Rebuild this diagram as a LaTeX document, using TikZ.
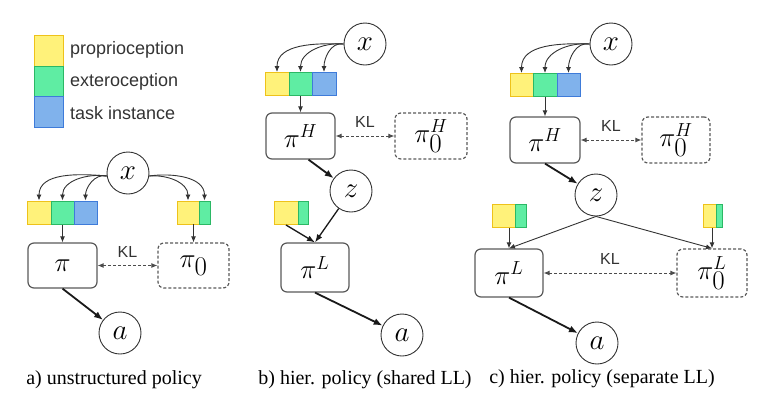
\RequirePackage{fix-cm}
\documentclass[tikz,border=0pt]{standalone}
\usepackage{fontspec}
\setmainfont{Liberation Serif}
\newfontfamily\sansf{Liberation Sans}
\usetikzlibrary{arrows.meta}
\definecolor{yf}{HTML}{FFF27A}
\definecolor{yd}{HTML}{EEC21A}
\definecolor{gf}{HTML}{5FEDA3}
\definecolor{gd}{HTML}{2BB865}
\definecolor{bf}{HTML}{80B2EC}
\definecolor{bd}{HTML}{3E7BD9}
\definecolor{ln}{HTML}{333333}
\newcommand{\bigsub}{_{\lower4pt\hbox{$\textstyle 0$}}}
\tikzset{
  sq/.style={draw, line width=1pt, inner sep=0pt, minimum height=23pt},
  ys/.style={sq, fill=yf, draw=yd},
  gs/.style={sq, fill=gf, draw=gd},
  bs/.style={sq, fill=bf, draw=bd},
  lsq/.style={draw, line width=1pt, inner sep=0pt, minimum width=29pt, minimum height=31pt},
  circ/.style={circle, draw=ln, line width=0.9pt, minimum size=42pt, inner sep=0pt, font=\fontsize{29}{33}\selectfont},
  pbox/.style={draw=black!65, rounded corners=6pt, line width=1.2pt, inner sep=0pt, font=\fontsize{27}{32}\selectfont},
  dbox/.style={pbox, dash pattern=on 3pt off 2pt},
  arr/.style={draw=ln, line width=0.9pt, -{Latex[length=6pt,width=5pt]}},
  marr/.style={draw=black!90, line width=1.3pt, -{Latex[length=8pt,width=6pt]}},
  tarr/.style={draw=black!90, line width=1.8pt, -{Latex[length=9pt,width=7pt]}},
  klarr/.style={draw=black!70, line width=0.9pt, dash pattern=on 3pt off 2pt, {Latex[length=6pt,width=5pt]}-{Latex[length=6pt,width=5pt]}},
  kllab/.style={inner sep=0pt, font=\sansf\fontsize{16}{18}\selectfont, text=ln},
  leg/.style={inner sep=0pt, anchor=west, font=\sansf\fontsize{18}{21}\selectfont, text=ln},
  captxt/.style={inner sep=0pt, font=\fontsize{20}{24}\selectfont}
}
\begin{document}
\begin{tikzpicture}[x=1pt,y=-1pt]
\useasboundingbox (0,0) rectangle (772,413);

% ---------- legend ----------
\node[lsq, fill=yf, draw=yd] (ly) at (48.5,51) {};
\node[lsq, fill=gf, draw=gd] (lg) at (48.5,81.5) {};
\node[lsq, fill=bf, draw=bd] (lb) at (48.5,112) {};
\node[leg] (lty) at (70,50) {proprioception};
\node[leg] (ltg) at (70,82) {exteroception};
\node[leg] (ltb) at (70,113) {task instance};

% ---------- panel a ----------
\node[circ] (xa) at (128,173) {$x$};
\node[ys, minimum width=24pt] (ay) at (39,212.5) {};
\node[gs, minimum width=23pt] (ag) at (62.5,212.5) {};
\node[bs, minimum width=23pt] (ab) at (85.5,212.5) {};
\node[ys, minimum width=22pt] (ry) at (188,212.5) {};
\node[gs, minimum width=11pt] (rg) at (204.5,212.5) {};
\coordinate (rbar) at (193.5,224);
\node[pbox, minimum width=69pt, minimum height=45pt] (pa) at (62.5,265.5) {$\pi$};
\node[dbox, minimum width=71pt, minimum height=45pt] (pa0) at (193.5,265.5) {$\pi\bigsub$};
\node[circ] (aa) at (120,333) {$a$};

\draw[arr] (xa.188) to[out=175,in=90] (ay.north);
\draw[arr] (xa.188) to[out=172,in=90] (ag.north);
\draw[arr] (xa.188) to[out=168,in=90] (ab.north);
\draw[arr] (xa.-8) to[out=5,in=90] (ry.north);
\draw[arr] (xa.-8) to[out=8,in=90] (rg.north);
\draw[arr] (ag.south) -- (pa.north);
\draw[arr] (rbar) -- (rbar |- pa0.north);
\draw[klarr] (pa.east) -- (pa0.west) node[midway, above=8pt, kllab] (kla) {KL};
\draw[tarr] (pa.south) -- (aa);
\node[captxt] (capa) at (114,380) {a) unstructured policy};

% ---------- panel b ----------
\node[circ] (xb) at (365,44) {$x$};
\node[ys, minimum width=24pt] (by) at (277,84) {};
\node[gs, minimum width=23pt] (bg) at (300.5,84) {};
\node[bs, minimum width=24pt] (bb) at (324,84) {};
\node[pbox, minimum width=69pt, minimum height=46pt] (pbh) at (300.5,136) {$\pi^H$};
\node[dbox, minimum width=72pt, minimum height=46pt] (pbh0) at (431,136) {$\pi^H\bigsub$};
\node[circ] (zb) at (351,191) {$z$};
\node[ys, minimum width=24pt] (sby) at (286,213) {};
\node[gs, minimum width=10pt] (sbg) at (303,213) {};
\node[pbox, minimum width=68pt, minimum height=49pt] (pbl) at (315,267.5) {$\pi^L$};
\node[circ] (ab2) at (402,335) {$a$};

\draw[arr] (xb.west) to[out=178,in=90] (by.north);
\draw[arr] (xb.west) to[out=175,in=90] (bg.north);
\draw[arr] (xb.west) to[out=170,in=90] (bb.north);
\draw[arr] (bg.south) -- (pbh.north);
\draw[klarr] (pbh.east) -- (pbh0.west) node[midway, above=8pt, kllab] (klb) {KL};
\draw[tarr] ([xshift=8pt]pbh.south) -- (zb);
\draw[marr] (zb) -- (pbl.north);
\draw[marr] (sby.south) -- (pbl.north);
\draw[tarr] (pbl.south) -- (ab2);
\node[captxt] (capb) at (365,380) {b) hier. policy (shared LL)};

% ---------- panel c ----------
\node[circ] (xc) at (611,44) {$x$};
\node[ys, minimum width=23pt] (cy) at (521.5,85) {};
\node[gs, minimum width=24pt] (cg) at (545,85) {};
\node[bs, minimum width=23pt] (cb) at (568.5,85) {};
\node[pbox, minimum width=70pt, minimum height=46pt] (pch) at (545,140) {$\pi^H$};
\node[dbox, minimum width=68pt, minimum height=46pt] (pch0) at (676,140) {$\pi^H\bigsub$};
\node[circ] (zc) at (596,195) {$z$};
\node[ys, minimum width=23pt] (lsy) at (503.5,216) {};
\node[gs, minimum width=11pt] (lsg) at (520.5,216) {};
\node[ys, minimum width=13pt] (rsy) at (709.5,216) {};
\node[gs, minimum width=6pt] (rsg) at (719,216) {};
\coordinate (lbar) at (509,228);
\coordinate (rsbar) at (712,228);
\node[pbox, minimum width=68pt, minimum height=48pt] (pcl) at (509,273) {$\pi^L$};
\node[dbox, minimum width=70pt, minimum height=48pt] (pcl0) at (712,273) {$\pi^L\bigsub$};
\node[circ] (ac) at (597,343) {$a$};

\draw[arr] (xc.west) to[out=178,in=90] (cy.north);
\draw[arr] (xc.west) to[out=175,in=90] (cg.north);
\draw[arr] (xc.west) to[out=170,in=90] (cb.north);
\draw[arr] (cg.south) -- (pch.north);
\draw[klarr] (pch.east) -- (pch0.west) node[midway, above=8pt, kllab] (klc) {KL};
\draw[tarr] (pch.south) -- (zc);
\draw[arr] (zc.south) -- (pcl.north);
\draw[arr] (zc.south) -- (pcl0.north);
\draw[arr] (lbar) -- (pcl.north);
\draw[arr] (rsbar) -- (pcl0.north);
\draw[klarr] (pcl.east) -- (pcl0.west) node[midway, above=8pt, kllab] (kld) {KL};
\draw[tarr] (pcl.south) -- (ac);
\node[captxt] (capc) at (602,379) {c) hier. policy (separate LL)};
\end{tikzpicture}
\end{document}
